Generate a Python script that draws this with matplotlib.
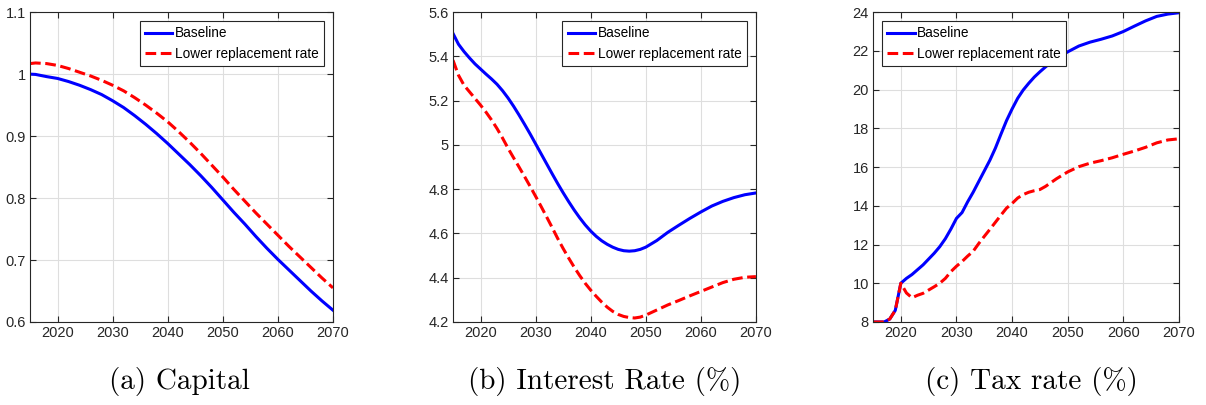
import matplotlib
matplotlib.use("Agg")
import matplotlib.pyplot as plt

# ---- data ----
years_a = [2015, 2016, 2018, 2020, 2022, 2024, 2026, 2028, 2030, 2032, 2034, 2036, 2038, 2040,
           2042, 2044, 2046, 2048, 2050, 2052, 2054, 2056, 2058, 2060, 2062, 2064, 2066, 2068, 2070]
capital_base = [1.000, 0.9995, 0.996, 0.993, 0.988, 0.982, 0.975, 0.967, 0.957, 0.946, 0.933, 0.919, 0.904, 0.888,
                0.871, 0.854, 0.836, 0.817, 0.797, 0.777, 0.758, 0.738, 0.719, 0.701, 0.684, 0.667, 0.650, 0.634, 0.619]
capital_low = [1.017, 1.018, 1.017, 1.014, 1.009, 1.003, 0.997, 0.990, 0.982, 0.973, 0.962, 0.950, 0.937, 0.923,
               0.907, 0.890, 0.872, 0.853, 0.834, 0.814, 0.795, 0.776, 0.758, 0.740, 0.722, 0.705, 0.688, 0.671, 0.655]

years_b = [2015, 2016, 2017, 2018, 2019, 2020, 2021, 2022, 2023, 2024, 2025, 2026, 2027, 2028, 2029,
           2030, 2031, 2032, 2033, 2034, 2035, 2036, 2037, 2038, 2039, 2040, 2041, 2042, 2043, 2044,
           2045, 2046, 2047, 2048, 2049, 2050, 2052, 2054, 2056, 2058, 2060, 2062, 2064, 2066, 2068, 2070]
rate_base = [5.504, 5.455, 5.422, 5.393, 5.366, 5.343, 5.320, 5.298, 5.274, 5.245, 5.212, 5.175, 5.135, 5.093, 5.050,
             5.005, 4.960, 4.915, 4.870, 4.826, 4.784, 4.744, 4.706, 4.671, 4.639, 4.611, 4.587, 4.567, 4.551, 4.538,
             4.528, 4.522, 4.520, 4.522, 4.528, 4.538, 4.568, 4.605, 4.637, 4.668, 4.697, 4.724, 4.745, 4.762, 4.775, 4.783]
rate_low = [5.383, 5.315, 5.270, 5.240, 5.210, 5.180, 5.148, 5.113, 5.074, 5.031, 4.985, 4.942, 4.900, 4.857, 4.813,
            4.768, 4.722, 4.675, 4.627, 4.578, 4.532, 4.489, 4.448, 4.410, 4.375, 4.344, 4.316, 4.290, 4.267, 4.248,
            4.234, 4.225, 4.220, 4.218, 4.222, 4.231, 4.254, 4.277, 4.297, 4.318, 4.338, 4.358, 4.378, 4.393, 4.402, 4.405]

years_c = [2015, 2016, 2017, 2018, 2019, 2020, 2021, 2022, 2023, 2024, 2025, 2026, 2027, 2028, 2029,
           2030, 2031, 2032, 2033, 2034, 2035, 2036, 2037, 2038, 2039, 2040, 2041, 2042, 2043, 2044,
           2045, 2046, 2047, 2048, 2050, 2052, 2054, 2056, 2058, 2060, 2062, 2064, 2066, 2068, 2070]
tax_base = [8.0, 8.0, 8.0, 8.15, 8.6, 10.0, 10.25, 10.45, 10.7, 10.95, 11.25, 11.55, 11.89, 12.3, 12.8,
            13.35, 13.65, 14.2, 14.7, 15.25, 15.8, 16.35, 16.98, 17.7, 18.4, 19.0, 19.55, 19.98, 20.33, 20.65,
            20.92, 21.17, 21.4, 21.6, 21.95, 22.25, 22.45, 22.6, 22.77, 23.0, 23.28, 23.55, 23.78, 23.9, 23.97]
tax_low = [8.0, 8.0, 8.0, 8.15, 8.6, 10.0, 9.5, 9.25, 9.38, 9.48, 9.65, 9.82, 10.0, 10.25, 10.6,
           10.88, 11.12, 11.4, 11.65, 12.05, 12.42, 12.78, 13.15, 13.52, 13.88, 14.12, 14.4, 14.58, 14.7, 14.78,
           14.84, 15.0, 15.2, 15.4, 15.75, 16.02, 16.2, 16.33, 16.48, 16.66, 16.83, 17.02, 17.25, 17.4, 17.46]

labels = ["Baseline", "Lower replacement rate"]
captions = ["(a) Capital", "(b) Interest Rate (%)", "(c) Tax rate (%)"]
yticks_all = [[0.6, 0.7, 0.8, 0.9, 1.0, 1.1],
              [4.2, 4.4, 4.6, 4.8, 5.0, 5.2, 5.4, 5.6],
              [8, 10, 12, 14, 16, 18, 20, 22, 24]]
ytick_labels = [["0.6", "0.7", "0.8", "0.9", "1", "1.1"],
                ["4.2", "4.4", "4.6", "4.8", "5", "5.2", "5.4", "5.6"],
                ["8", "10", "12", "14", "16", "18", "20", "22", "24"]]
xticks = [2020, 2030, 2040, 2050, 2060, 2070]

# ---- figure ----
tick_font = ["Liberation Sans", "DejaVu Sans"]
fig = plt.figure(figsize=(12.06, 4.05), dpi=100)
positions = [[0.0249, 0.205, 0.2512, 0.765],
             [0.3756, 0.205, 0.2512, 0.765],
             [0.7239, 0.205, 0.2537, 0.765]]
series = [(years_a, capital_base, capital_low),
          (years_b, rate_base, rate_low),
          (years_c, tax_base, tax_low)]
legend_locs = ["upper right", "upper right", "upper left"]
caption_x = [0.149, 0.501, 0.855]
dark = (0.15, 0.15, 0.15)

for i in range(3):
    ax = fig.add_axes(positions[i])
    xs, yb, yl = series[i]
    ax.plot(xs, yb, color=(0, 0, 1), lw=2.2, label=labels[0])
    ax.plot(xs, yl, color=(1, 0, 0), lw=2.2, dashes=(3.5, 1.5), label=labels[1])
    ax.set_xlim(2015, 2070)
    ax.set_ylim(yticks_all[i][0], yticks_all[i][-1])
    ax.set_xticks(xticks)
    ax.set_xticklabels([str(t) for t in xticks])
    ax.set_yticks(yticks_all[i])
    ax.set_yticklabels(ytick_labels[i])
    ax.grid(True, color=(0.87, 0.87, 0.87), lw=0.8)
    ax.set_axisbelow(True)
    ax.tick_params(direction="in", top=True, right=True, length=4, width=0.8,
                   colors=dark, labelsize=10.5, pad=3)
    for lab in ax.get_xticklabels() + ax.get_yticklabels():
        lab.set_family(tick_font)
    for sp in ax.spines.values():
        sp.set_color(dark)
        sp.set_linewidth(0.8)
    leg = ax.legend(loc=legend_locs[i], fancybox=False, framealpha=1, edgecolor=dark,
                    prop={"family": tick_font, "size": 9.8}, handlelength=2.0,
                    handletextpad=0.2, borderpad=0.4, labelspacing=0.45,
                    borderaxespad=0.65)
    leg.get_frame().set_linewidth(0.8)
    fig.text(caption_x[i], 0.059, captions[i], ha="center", va="center",
             family=["cmr10", "DejaVu Serif"], fontsize=21)

fig.savefig("out.png", dpi=100)
